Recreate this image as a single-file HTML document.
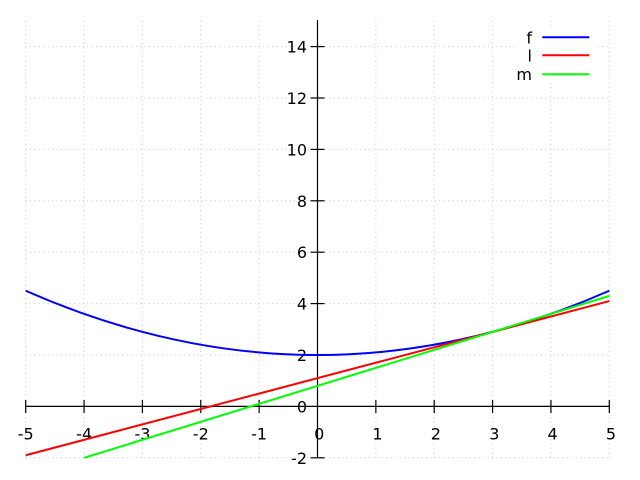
<!DOCTYPE html>
<html>
<head>
<meta charset="utf-8">
<style>
html,body{margin:0;padding:0;background:#fff;}
svg{display:block;}
text{font-family:"DejaVu Sans","Liberation Sans",sans-serif;font-size:16px;fill:#000;}
</style>
</head>
<body>
<svg width="640" height="480" viewBox="0 0 640 480" xmlns="http://www.w3.org/2000/svg">
<rect width="640" height="480" fill="#fff"/>
<!-- grid -->
<g stroke="#c8c8c8" stroke-width="1" stroke-dasharray="1,3.4" fill="none">
  <line x1="25.7" y1="21" x2="25.7" y2="458"/>
  <line x1="84.06" y1="21" x2="84.06" y2="458"/>
  <line x1="142.42" y1="21" x2="142.42" y2="458"/>
  <line x1="200.78" y1="21" x2="200.78" y2="458"/>
  <line x1="259.14" y1="21" x2="259.14" y2="458"/>
  <line x1="375.86" y1="21" x2="375.86" y2="458"/>
  <line x1="434.22" y1="21" x2="434.22" y2="458"/>
  <line x1="492.58" y1="21" x2="492.58" y2="458"/>
  <line x1="550.94" y1="21" x2="550.94" y2="458"/>
  <line x1="609.3" y1="21" x2="609.3" y2="458"/>
  <line x1="25.7" y1="457.8" x2="609.3" y2="457.8"/>
  <line x1="25.7" y1="355" x2="609.3" y2="355"/>
  <line x1="25.7" y1="303.6" x2="609.3" y2="303.6"/>
  <line x1="25.7" y1="252.2" x2="609.3" y2="252.2"/>
  <line x1="25.7" y1="200.8" x2="609.3" y2="200.8"/>
  <line x1="25.7" y1="149.4" x2="609.3" y2="149.4"/>
  <line x1="25.7" y1="98" x2="609.3" y2="98"/>
  <line x1="25.7" y1="46.6" x2="609.3" y2="46.6"/>
</g>
<!-- axes -->
<g stroke="#000" stroke-width="1.2" fill="none">
  <line x1="25.7" y1="406.4" x2="609.3" y2="406.4"/>
  <line x1="317.5" y1="20" x2="317.5" y2="458"/>
  <!-- x ticks -->
  <line x1="25.7" y1="400" x2="25.7" y2="413"/>
  <line x1="84.06" y1="400" x2="84.06" y2="413"/>
  <line x1="142.42" y1="400" x2="142.42" y2="413"/>
  <line x1="200.78" y1="400" x2="200.78" y2="413"/>
  <line x1="259.14" y1="400" x2="259.14" y2="413"/>
  <line x1="375.86" y1="400" x2="375.86" y2="413"/>
  <line x1="434.22" y1="400" x2="434.22" y2="413"/>
  <line x1="492.58" y1="400" x2="492.58" y2="413"/>
  <line x1="550.94" y1="400" x2="550.94" y2="413"/>
  <line x1="609.3" y1="400" x2="609.3" y2="413"/>
  <!-- y ticks -->
  <line x1="310.5" y1="457.8" x2="324.5" y2="457.8"/>
  <line x1="310.5" y1="355" x2="324.5" y2="355"/>
  <line x1="310.5" y1="303.6" x2="324.5" y2="303.6"/>
  <line x1="310.5" y1="252.2" x2="324.5" y2="252.2"/>
  <line x1="310.5" y1="200.8" x2="324.5" y2="200.8"/>
  <line x1="310.5" y1="149.4" x2="324.5" y2="149.4"/>
  <line x1="310.5" y1="98" x2="324.5" y2="98"/>
  <line x1="310.5" y1="46.6" x2="324.5" y2="46.6"/>
</g>
<!-- x labels -->
<g text-anchor="middle">
  <text x="25.7" y="439.5">-5</text>
  <text x="84.06" y="439.5">-4</text>
  <text x="142.42" y="439.5">-3</text>
  <text x="200.78" y="439.5">-2</text>
  <text x="259.14" y="439.5">-1</text>
  <text x="319.2" y="439.5">0</text>
  <text x="377.5" y="439.5">1</text>
  <text x="435.9" y="439.5">2</text>
  <text x="494.3" y="439.5">3</text>
  <text x="552.6" y="439.5">4</text>
  <text x="611" y="439.5">5</text>
</g>
<!-- y labels -->
<g text-anchor="end">
  <text x="307" y="463.8">-2</text>
  <text x="307" y="412.4">0</text>
  <text x="307" y="361">2</text>
  <text x="307" y="309.6">4</text>
  <text x="307" y="258.2">6</text>
  <text x="307" y="206.8">8</text>
  <text x="307" y="155.4">10</text>
  <text x="307" y="104">12</text>
  <text x="307" y="52.6">14</text>
</g>
<!-- series -->
<g fill="none" stroke-width="2" stroke-linecap="butt">
  <path d="M25.7,290.75 Q317.5,419.25 609.3,290.75" stroke="#0000ff"/>
  <line x1="25.7" y1="455.23" x2="609.3" y2="301.03" stroke="#ff0000"/>
  <line x1="84.06" y1="457.8" x2="609.3" y2="295.89" stroke="#00ff00"/>
</g>
<!-- legend -->
<rect x="515" y="27" width="83" height="56" fill="#fff"/>
<g text-anchor="end">
  <text x="532" y="43.3">f</text>
  <text x="532" y="61.5">l</text>
  <text x="532" y="80">m</text>
</g>
<g stroke-width="2">
  <line x1="542.3" y1="37.3" x2="589.3" y2="37.3" stroke="#0000ff"/>
  <line x1="542.3" y1="55.3" x2="589.3" y2="55.3" stroke="#ff0000"/>
  <line x1="542.3" y1="74.3" x2="589.3" y2="74.3" stroke="#00ff00"/>
</g>
</svg>
</body>
</html>
